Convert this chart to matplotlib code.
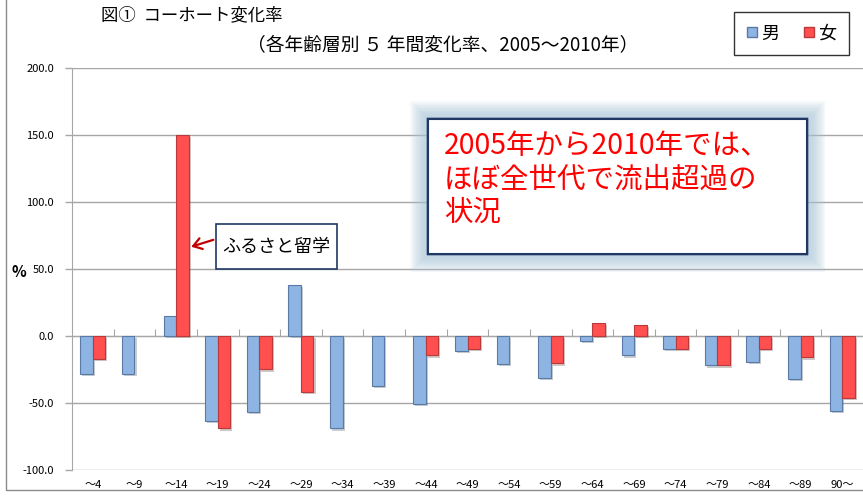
import numpy as np
import matplotlib
matplotlib.use('Agg')
import matplotlib.pyplot as plt
import matplotlib.patheffects as pe
from matplotlib.patches import Rectangle
from matplotlib.lines import Line2D

plt.rcParams['font.family'] = ['Noto Sans CJK JP', 'DejaVu Sans']

# data (%), nan = no bar drawn
ages = ['～4', '～9', '～14', '～19', '～24', '～29', '～34', '～39', '～44', '～49',
        '～54', '～59', '～64', '～69', '～74', '～79', '～84', '～89', '90～']
male = [-28.5, -28.5, 15.0, -63.5, -57.0, 38.0, -69.0, -37.0, -50.5, -11.5,
        -21.0, -31.0, -4.0, -14.5, -10.0, -22.0, -19.5, -32.0, -56.0]
female = [-17.0, np.nan, 150.0, -69.0, -25.0, -42.0, np.nan, np.nan, -14.5, -9.5,
          np.nan, -20.5, 10.0, 8.0, -10.0, -22.0, -9.5, -16.0, -46.0]

blue = '#8db4e2'
blue_edge = '#5a7aa6'
red = '#ff4f4f'
red_edge = '#b83a3a'
grid_c = '#a6a6a6'

fig = plt.figure(figsize=(8.63, 4.98), dpi=100)
ax = fig.add_axes([72/863, 1-470/498, (863-72)/863, (470-68)/498])

x = np.arange(len(ages))
w = 0.3
shadow = [pe.SimplePatchShadow(offset=(1.5, -1.5), alpha=0.25), pe.Normal()]
b1 = ax.bar(x + 0.5 - w/2, male, w, color=blue, edgecolor=blue_edge, linewidth=0.8, zorder=3)
b2 = ax.bar(x + 0.5 + w/2, female, w, color=red, edgecolor=red_edge, linewidth=0.8, zorder=3)
for b in list(b1) + list(b2):
    b.set_path_effects(shadow)

ax.set_xlim(0, len(ages))
ax.set_ylim(-100, 200)
ax.set_yticks([-100, -50, 0, 50, 100, 150, 200])
ax.set_yticklabels(['%.1f' % v for v in [-100, -50, 0, 50, 100, 150, 200]], fontsize=8)
ax.yaxis.grid(True, color=grid_c, linewidth=1, zorder=0)
ax.tick_params(axis='y', length=5, color=grid_c, width=1, pad=8)

for s in ['top', 'right']:
    ax.spines[s].set_visible(False)
ax.spines['left'].set_color(grid_c)
ax.spines['bottom'].set_position(('data', 0))
ax.spines['bottom'].set_color(grid_c)
ax.spines['bottom'].set_zorder(2)
ax.set_xticks(np.arange(1, len(ages)))
ax.tick_params(axis='x', direction='in', length=5, color=grid_c, labelbottom=False)

sec = ax.secondary_xaxis('bottom')
sec.set_xticks(x + 0.5)
sec.set_xticklabels(ages, fontsize=8)
sec.tick_params(length=0, pad=7)
sec.spines['bottom'].set_visible(False)

# outer chart frame
fig.patches.append(Rectangle((6/863, 8/498), 2, 2, transform=fig.transFigure,
                             fill=False, edgecolor='#8c8c8c', linewidth=1))

fig.text(101/863, 1-15/498, '図①  コーホート変化率', fontsize=12.5, va='center')
fig.text(247/863, 1-45/498, '（各年齢層別 ５ 年間変化率、2005～2010年）', fontsize=13.5, va='center')
fig.text(19/863, 1-272/498, '%', fontsize=11, fontweight='bold', ha='center', va='center')

# legend
handles = [Line2D([], [], marker='s', linestyle='', markersize=7, markerfacecolor=blue, markeredgecolor=blue_edge),
           Line2D([], [], marker='s', linestyle='', markersize=7, markerfacecolor=red, markeredgecolor=red_edge)]
leg = fig.legend(handles, ['男', '女'], loc='upper right', bbox_to_anchor=(858/863, 1-3/498),
                 ncol=2, fontsize=13, frameon=True, fancybox=False, edgecolor='black',
                 borderpad=0.7, handlelength=0.7, handletextpad=0.15, columnspacing=1.3)
leg.get_frame().set_linewidth(1)

# note "ふるさと留学"
note = Rectangle((216/863, 1-269/498), 121/863, 45/498, transform=fig.transFigure,
                 facecolor='white', edgecolor='#1f3864', linewidth=1.2, zorder=5)
fig.patches.append(note)
fig.text(276/863, 1-247/498, 'ふるさと留学', fontsize=13, ha='center', va='center', zorder=6)
ax.annotate('', xy=(2 + 0.5 + w, 66), xycoords='data',
            xytext=(216/863, 1-239/498), textcoords='figure fraction',
            arrowprops=dict(arrowstyle='->,head_length=0.6,head_width=0.4', color='#c00000', lw=1.6),
            zorder=6)

# comment box with soft glow
box = Rectangle((428/863, 1-254/498), 379/863, 135/498, transform=fig.transFigure,
                facecolor='white', edgecolor='#1f3864', linewidth=1.5, zorder=5)
glow = [pe.withStroke(linewidth=lw, foreground='#a9c6d8', alpha=0.09)
        for lw in range(26, 4, -2)]
box.set_path_effects(glow + [pe.Normal()])
fig.patches.append(box)
fig.text(444/863, 1-131/498, '2005年から2010年では、\nほぼ全世代で流出超過の\n状況',
         fontsize=20.5, color='#ff0000', ha='left', va='top', linespacing=1.15, zorder=6)

fig.savefig('out.png', dpi=100)
